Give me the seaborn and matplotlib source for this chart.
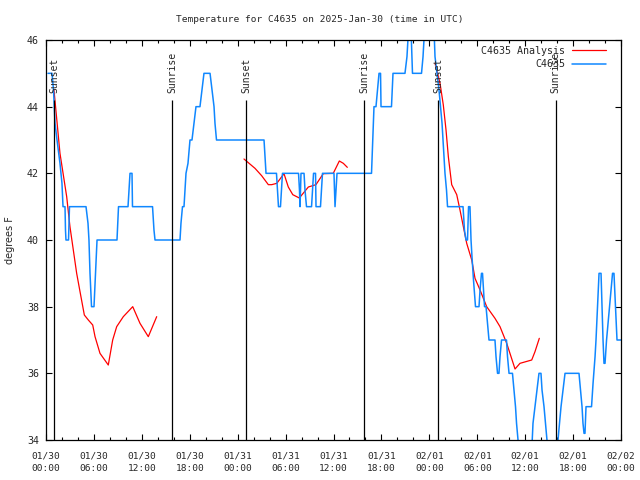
import numpy as np
import pandas as pd
import seaborn as sns
import matplotlib
matplotlib.use("Agg")
import matplotlib.pyplot as plt

# hours since 2025-01-30 00:00 UTC
obs_hours = [0.25, 0.75, 0.94, 1.13, 1.38, 1.75, 2.00, 2.13, 2.38, 2.44, 2.50, 2.82, 2.94,
             5.01, 5.26, 5.38, 5.51, 5.70, 6.01, 6.20, 6.39, 8.89, 9.08, 10.27, 10.39, 10.52,
             10.77, 10.83, 13.34, 13.52, 13.65, 16.78, 16.90, 17.09, 17.28, 17.41, 17.53, 17.78,
             18.03, 18.28, 18.53, 18.78, 19.28, 19.53, 19.78, 20.54, 20.79, 21.04, 21.16, 21.35,
             27.30, 27.42, 27.55, 28.86, 28.99, 29.11, 29.36, 29.49, 29.61, 31.62, 31.74, 31.81,
             31.93, 32.31, 32.43, 32.62, 33.25, 33.37, 33.50, 33.75, 33.81, 34.37, 34.50, 34.62,
             36.06, 36.19, 36.31, 36.44, 40.76, 40.88, 41.07, 41.32, 41.51, 41.70, 41.89, 41.95,
             43.26, 43.45, 44.95, 45.20, 45.39, 45.71, 45.89, 47.02, 47.21, 47.40, 48.59, 48.71,
             48.96, 49.21, 49.40, 49.59, 49.71, 49.84, 49.96, 50.15, 50.28, 52.22, 52.40, 52.59,
             52.78, 52.91, 53.09, 53.22, 53.34, 53.53, 53.78, 54.22, 54.35, 54.53, 54.66, 54.78,
             54.91, 55.10, 55.28, 55.47, 56.22, 56.35, 56.54, 56.72, 56.85, 57.04, 57.66, 57.79,
             57.98, 58.41, 58.60, 58.79, 58.92, 59.10, 59.29, 60.79, 60.98, 61.23, 61.48, 61.73,
             61.98, 62.11, 62.36, 62.55, 62.73, 62.86, 63.86, 64.11, 64.30, 64.49, 64.74, 64.99,
             66.74, 66.93, 67.12, 67.24, 67.37, 67.49, 67.62, 68.31, 68.50, 68.75, 68.87, 69.06,
             69.25, 69.50, 69.62, 69.75, 69.87, 70.00, 70.19, 70.38, 70.56, 70.75, 70.94, 71.12,
             71.31, 71.50, 72.00]
obs_temp = [45, 45, 44.5, 43.5, 43, 42.3, 41.7, 41, 41, 40.3, 40, 40, 41,
            41, 40.5, 40, 39, 38, 38, 39, 40, 40, 41, 41, 41.5, 42,
            42, 41, 41, 40.3, 40, 40, 40.5, 41, 41, 41.5, 42, 42.3,
            43, 43, 43.5, 44, 44, 44.5, 45, 45, 44.5, 44, 43.5, 43,
            43, 42.5, 42, 42, 41.5, 41, 41, 41.5, 42, 42, 41.5, 41,
            42, 42, 41.5, 41, 41, 41.5, 42, 42, 41, 41, 41.5, 42,
            42, 41, 41.5, 42, 42, 42.8, 44, 44, 44.5, 45, 45, 44,
            44, 45, 45, 45.5, 46.3, 46.3, 45, 45, 45.5, 46.3, 46.3, 45.5,
            45, 44.5, 44, 43.5, 43, 42.5, 42, 41.5, 41, 41, 40.3, 40,
            40, 41, 41, 40, 39.5, 38.8, 38, 38, 38.5, 39, 39, 38.5,
            38, 38, 37.5, 37, 37, 36.5, 36, 36, 36.5, 37, 37, 36.5,
            36, 36, 35.5, 35, 34.5, 34, 33.5, 33.5, 34.5, 35, 35.5, 36,
            36, 35.5, 35, 34.5, 34, 33.5, 33.5, 34, 34.5, 35, 35.5, 36,
            36, 35.5, 35, 34.5, 34.2, 34.2, 35, 35, 35.7, 36.5, 37, 38,
            39, 39, 38, 37, 36.3, 36.3, 37, 37.5, 38, 38.5, 39, 39,
            38, 37, 37]

ana_hours_1 = [1.0, 1.75, 2.59, 3.0, 3.42, 3.84, 4.26, 4.80, 5.30, 5.85, 6.14, 6.76, 7.80,
               8.35, 8.85, 9.68, 10.86, 11.77, 12.81, 13.86]
ana_temp_1 = [44.5, 42.6, 41.3, 40.4, 39.7, 39.0, 38.45, 37.75, 37.6, 37.45, 37.1, 36.6, 36.25,
              37.0, 37.4, 37.7, 38.0, 37.5, 37.1, 37.7]
ana_hours_2 = [24.79, 26.17, 27.0, 27.84, 28.26, 28.9, 29.8, 30.34, 30.9, 31.72, 32.85, 33.8,
               34.72, 35.97, 36.73, 37.23, 37.73]
ana_temp_2 = [42.43, 42.15, 41.93, 41.66, 41.66, 41.7, 41.99, 41.59, 41.36, 41.26, 41.59, 41.66,
              41.99, 42.0, 42.37, 42.3, 42.18]
ana_hours_3 = [48.71, 49.34, 49.75, 50.09, 50.38, 50.8, 51.43, 51.84, 52.68, 53.31, 53.72, 54.35,
               55.18, 56.22, 56.85, 57.69, 58.73, 59.35, 60.82, 61.23, 61.77]
ana_temp_3 = [45.3, 44.7, 44.05, 43.3, 42.5, 41.66, 41.36, 40.9, 39.9, 39.4, 38.85, 38.5,
              38.0, 37.65, 37.4, 36.9, 36.13, 36.3, 36.4, 36.65, 37.05]

sun_hours = [1.04, 15.82, 25.04, 39.86, 49.13, 63.82]
sun_names = ["Sunset", "Sunrise", "Sunset", "Sunrise", "Sunset", "Sunrise"]

tick_hours = [0, 6, 12, 18, 24, 30, 36, 42, 48, 54, 60, 66, 72]
tick_labels = ["01/30\n00:00", "01/30\n06:00", "01/30\n12:00", "01/30\n18:00",
               "01/31\n00:00", "01/31\n06:00", "01/31\n12:00", "01/31\n18:00",
               "02/01\n00:00", "02/01\n06:00", "02/01\n12:00", "02/01\n18:00",
               "02/02\n00:00"]

sns.set_theme(style="white")
plt.rcParams['font.family'] = ['DejaVu Sans Mono']

red = "#ff0000"
blue = "#0f87ff"

fig = plt.figure(figsize=(6.4, 4.8), dpi=100)
ax = fig.add_axes([46/640, 40/480, 575/640, 400/480])

sns.lineplot(x=ana_hours_1, y=ana_temp_1, ax=ax, color=red, lw=0.9,
             estimator=None, sort=False)
sns.lineplot(x=ana_hours_2, y=ana_temp_2, ax=ax, color=red, lw=0.9,
             estimator=None, sort=False)
sns.lineplot(x=ana_hours_3, y=ana_temp_3, ax=ax, color=red, lw=0.9,
             estimator=None, sort=False)
sns.lineplot(x=obs_hours, y=obs_temp, ax=ax, color=blue, lw=1.1,
             estimator=None, sort=False)

ax.set_xlim(0, 72)
ax.set_ylim(34, 46)

ax.vlines(sun_hours, 34, 44.2, color="black", lw=0.9)
for h, name in zip(sun_hours, sun_names):
    ax.text(h, 44.42, name, rotation=90, ha="center", va="bottom", fontsize=7)

ax.set_xticks(tick_hours)
ax.set_xticklabels(tick_labels, fontsize=6.8, linespacing=1.5)
ax.set_xticks(np.arange(0, 73, 2), minor=True)
ax.set_yticks([34, 36, 38, 40, 42, 44, 46])
ax.tick_params(axis="y", labelsize=7.2, pad=5)
ax.tick_params(axis="x", pad=8)
ax.tick_params(which="major", direction="in", length=4.5, width=0.8,
               top=True, right=True, bottom=True, left=True, color="black")
ax.tick_params(which="minor", direction="in", length=2.2, width=0.8,
               top=True, bottom=True, color="black")
for s in ax.spines.values():
    s.set_color("black")
    s.set_linewidth(0.9)

ax.set_xlabel("")
ax.set_ylabel("")
fig.text(10/640, 0.5, "degrees F", rotation=90, ha="center", va="center",
         fontsize=7, family=["DejaVu Sans"])
fig.text(0.5, 1 - 20/480, "Temperature for C4635 on 2025-Jan-30 (time in UTC)",
         ha="center", va="center", fontsize=6.8)

h_red = plt.Line2D([], [], color=red, lw=0.9)
h_blue = plt.Line2D([], [], color=blue, lw=1.1)
ax.legend([h_red, h_blue], ["C4635 Analysis", "C4635"], loc="upper right",
          frameon=False, markerfirst=False, fontsize=7.2, handlelength=3.4,
          handletextpad=0.7, borderaxespad=0.2, labelspacing=0.35,
          bbox_to_anchor=(0.985, 1.0))

fig.savefig("out.png", dpi=100)
